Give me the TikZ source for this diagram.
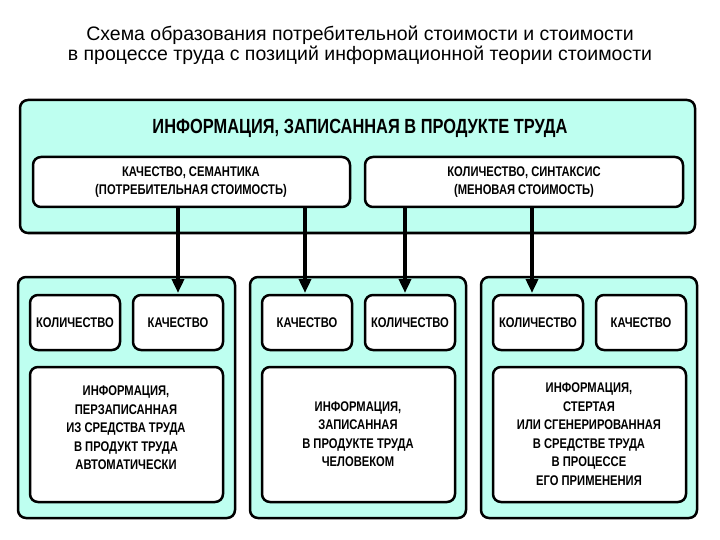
\documentclass[tikz,border=0pt]{standalone}
\usepackage{fontspec}
\setmainfont{Liberation Sans}
\newfontfamily\nar[FakeStretch=0.8]{Liberation Sans}
\usetikzlibrary{arrows.meta,calc}
\definecolor{cy}{RGB}{190,255,240}
\begin{document}
\begin{tikzpicture}[x=1pt,y=-1pt,
 grp/.style={draw=black,line width=2.5pt,fill=cy,rounded corners=8pt},
 box/.style={draw=black,line width=2.5pt,fill=white,rounded corners=8pt},
 lab/.style={font=\nar\bfseries\fontsize{14}{18.5}\selectfont,align=center},
 arr/.style={line width=4pt,-{Triangle[width=12pt,length=14pt]}}]
\useasboundingbox (0,0) rectangle (720,540);
\node[font=\fontsize{19.5}{20}\selectfont,align=center] (title) at (360,45) {Схема образования потребительной стоимости и стоимости\\в процессе труда с позиций информационной теории стоимости};
\draw[grp] (20,100) rectangle (695,233);
\node[font=\nar\bfseries\fontsize{20.5}{24}\selectfont] (head) at (360,128) {ИНФОРМАЦИЯ, ЗАПИСАННАЯ В ПРОДУКТЕ ТРУДА};
% groups
\draw[grp] (18,277) rectangle (235,518);
\draw[grp] (250,277) rectangle (466,518);
\draw[grp] (481,277) rectangle (697,518);
\foreach \x/\a/\b [count=\i] in {30/КОЛИЧЕСТВО/КАЧЕСТВО,262/КАЧЕСТВО/КОЛИЧЕСТВО,493/КОЛИЧЕСТВО/КАЧЕСТВО}{
 \draw[box] (\x,295) rectangle ++(90,55);
 \node[lab] (a\i) at ($(\x,295)+(45,27.5)$) {\a};
 \draw[box] (\x+103,295) rectangle ++(90,55);
 \node[lab] (b\i) at ($(\x+103,295)+(45,27.5)$) {\b};
 \draw[box] (\x,367) rectangle ++(193,135);
}
\node[lab] (c1) at (126,428) {ИНФОРМАЦИЯ,\\ПЕРЗАПИСАННАЯ\\ИЗ СРЕДСТВА ТРУДА\\В ПРОДУКТ ТРУДА\\АВТОМАТИЧЕСКИ};
\node[lab] (c2) at (358,434) {ИНФОРМАЦИЯ,\\ЗАПИСАННАЯ\\В ПРОДУКТЕ ТРУДА\\ЧЕЛОВЕКОМ};
\node[lab] (c3) at (589,434) {ИНФОРМАЦИЯ,\\СТЕРТАЯ\\ИЛИ СГЕНЕРИРОВАННАЯ\\В СРЕДСТВЕ ТРУДА\\В ПРОЦЕССЕ\\ЕГО ПРИМЕНЕНИЯ};
\coordinate (s1) at (178,205); \coordinate (s2) at (305,205);
\coordinate (s3) at (405,205); \coordinate (s4) at (532,205);
\coordinate (t1) at (178,293); \coordinate (t2) at (305,293);
\coordinate (t3) at (405,293); \coordinate (t4) at (532,293);
\foreach \i in {1,...,4} \draw[arr] (s\i) -- (t\i);
\draw[box] (33,157) rectangle (350,207);
\node[lab] (sem) at (191,182) {КАЧЕСТВО, СЕМАНТИКА\\(ПОТРЕБИТЕЛЬНАЯ СТОИМОСТЬ)};
\draw[box] (365,157) rectangle (683,207);
\node[lab] (syn) at (524,182) {КОЛИЧЕСТВО, СИНТАКСИС\\(МЕНОВАЯ СТОИМОСТЬ)};
\end{tikzpicture}
\end{document}
